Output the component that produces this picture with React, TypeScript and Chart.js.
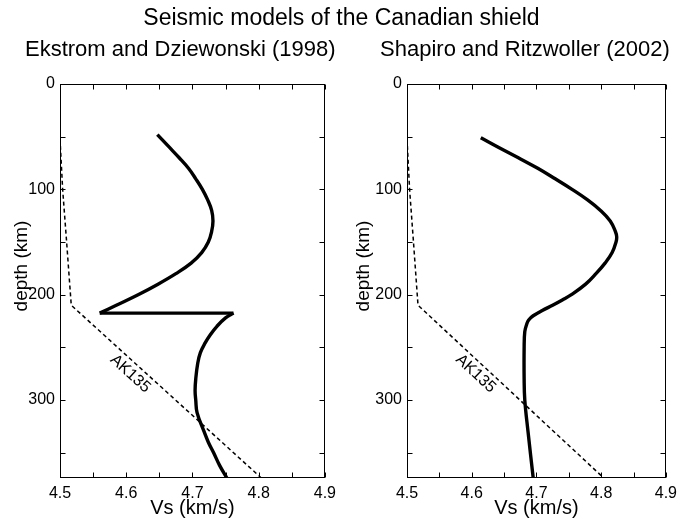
import React, { useEffect, useRef } from 'react';
import { Chart, registerables } from 'chart.js';

Chart.register(...registerables);

// ---------- text ----------
const mainTitle = 'Seismic models of the Canadian shield';
const panelTitles = ['Ekstrom and Dziewonski (1998)', 'Shapiro and Ritzwoller (2002)'];
const xAxisTitle = 'Vs (km/s)';
const yAxisTitle = 'depth (km)';
const refLabel = 'AK135';

// ---------- axes ----------
const xMin = 4.5;
const xMax = 4.9;
const xStep = 0.05;
const yMin = 0;
const yMax = 374;
const yStep = 50;

// ---------- data (depth in km, Vs in km/s) ----------
// Ekstrom & Dziewonski: upper branch down to the jump, then the deeper branch
const ekstromUpperDepth = [48, 60, 70, 80, 90, 100, 110, 120, 130, 140, 150, 160, 170, 180, 190, 200, 210, 217.5];
const ekstromUpperVs = [4.647, 4.665, 4.680, 4.694, 4.705, 4.715, 4.723, 4.729, 4.731, 4.729, 4.724, 4.714, 4.698, 4.675, 4.648, 4.618, 4.585, 4.560];
const ekstromLowerDepth = [217.5, 222, 230, 238, 246, 255, 265, 280, 291, 300, 312, 329, 340, 350, 362, 374];
const ekstromLowerVs = [4.762, 4.750, 4.737, 4.727, 4.719, 4.712, 4.708, 4.705, 4.704, 4.705, 4.707, 4.717, 4.724, 4.732, 4.741, 4.752];

const shapiroDepth = [51, 60, 70, 80, 90, 100, 110, 120, 130, 140, 145, 150, 160, 170, 180, 190, 200, 205, 210, 215, 220, 224, 228, 235, 250, 280, 300, 330, 374];
const shapiroVs = [4.614, 4.641, 4.672, 4.702, 4.729, 4.755, 4.779, 4.799, 4.814, 4.822, 4.824, 4.823, 4.817, 4.806, 4.792, 4.776, 4.754, 4.740, 4.725, 4.709, 4.695, 4.688, 4.685, 4.682, 4.681, 4.681, 4.682, 4.687, 4.695];

const ak135Depth = [52, 100, 150, 210, 374];
const ak135Vs = [4.500, 4.504, 4.510, 4.517, 4.804];

// where the AK135 label sits (data coordinates)
const refLabelVs = 4.606;
const refLabelDepth = 275;

const FONT = '"Liberation Sans", Arial, Helvetica, sans-serif';

const toPoints = (vs: number[], depth: number[]) => vs.map((v, i) => ({ x: v, y: depth[i] }));

const boxPlugin = {
  id: 'matlabBox',
  afterDatasetsDraw(chart: any) {
    const { ctx, chartArea } = chart;
    const xs = chart.scales.x;
    const ys = chart.scales.y;
    const l = Math.round(chartArea.left) + 0.5;
    const r = Math.round(chartArea.right) - 0.5;
    const t = Math.round(chartArea.top) + 0.5;
    const b = Math.round(chartArea.bottom) - 0.5;
    const tl = 5;
    ctx.save();
    ctx.strokeStyle = '#000';
    ctx.lineWidth = 1;
    ctx.strokeRect(l, t, r - l, b - t);
    ctx.beginPath();
    xs.ticks.forEach((tk: any) => {
      const k = Math.round((tk.value / xStep) * 1000) / 1000;
      if (Math.abs(k - Math.round(k)) > 1e-6) return;
      const px = Math.round(xs.getPixelForValue(tk.value)) + 0.5;
      ctx.moveTo(px, b); ctx.lineTo(px, b - tl);
      ctx.moveTo(px, t); ctx.lineTo(px, t + tl);
    });
    ys.ticks.forEach((tk: any) => {
      if (tk.value % yStep !== 0) return;
      const py = Math.round(ys.getPixelForValue(tk.value)) + 0.5;
      ctx.moveTo(l, py); ctx.lineTo(l + tl, py);
      ctx.moveTo(r, py); ctx.lineTo(r - tl, py);
    });
    ctx.stroke();
    ctx.restore();

    // AK135 label along the dashed line
    ctx.save();
    const p0 = { x: xs.getPixelForValue(ak135Vs[3]), y: ys.getPixelForValue(ak135Depth[3]) };
    const p1 = { x: xs.getPixelForValue(ak135Vs[4]), y: ys.getPixelForValue(ak135Depth[4]) };
    const ang = Math.atan2(p1.y - p0.y, p1.x - p0.x);
    ctx.translate(xs.getPixelForValue(refLabelVs), ys.getPixelForValue(refLabelDepth));
    ctx.rotate(ang);
    ctx.fillStyle = '#000';
    ctx.font = `16px ${FONT}`;
    ctx.textAlign = 'center';
    ctx.textBaseline = 'middle';
    ctx.fillText(refLabel, 0, 0);
    ctx.restore();

    // y axis title
    ctx.save();
    ctx.translate(ys.left + 22, (chartArea.top + chartArea.bottom) / 2 - 15);
    ctx.rotate(-Math.PI / 2);
    ctx.fillStyle = '#000';
    ctx.font = `19px ${FONT}`;
    ctx.textAlign = 'center';
    ctx.textBaseline = 'middle';
    ctx.fillText(yAxisTitle, 0, 0);
    ctx.restore();
  },
};

type Segment = { vs: number[]; depth: number[] };

function Panel(props: { segments: Segment[]; left: number; width: number; yAxisWidth: number; padRight: number }) {
  const ref = useRef<HTMLCanvasElement | null>(null);
  const { segments, left, width, yAxisWidth, padRight } = props;
  useEffect(() => {
    if (!ref.current) return;
    const tickFont = { family: FONT, size: 16 };
    const titleFont = { family: FONT, size: 20 };
    const solid = segments.map((s) => ({
      data: toPoints(s.vs, s.depth),
      showLine: true,
      borderColor: '#000',
      borderWidth: 3.4,
      pointRadius: 0,
      tension: 0.4,
      borderJoinStyle: 'miter',
      borderCapStyle: 'butt',
    }));
    const chart = new Chart(ref.current, {
      type: 'scatter',
      data: {
        datasets: [
          {
            data: toPoints(ak135Vs, ak135Depth),
            showLine: true,
            borderColor: '#000',
            borderWidth: 1.5,
            borderDash: [4, 3],
            pointRadius: 0,
            tension: 0,
          },
          ...solid,
        ],
      },
      options: {
        responsive: false,
        animation: false,
        layout: { padding: { left: 0, right: padRight, top: 84, bottom: 0 } },
        plugins: { legend: { display: false }, tooltip: { enabled: false }, title: { display: false } },
        scales: {
          x: {
            type: 'linear',
            min: xMin,
            max: xMax,
            grid: { display: false, drawTicks: false },
            border: { display: false },
            ticks: {
              stepSize: xStep,
              autoSkip: false,
              maxRotation: 0,
              padding: 6,
              color: '#000',
              font: tickFont,
              callback: (v: any) => {
                const n = Math.round(Number(v) * 100);
                return n % 10 === 0 ? (n / 100).toFixed(1) : '';
              },
            },
            title: { display: true, text: xAxisTitle, color: '#000', font: titleFont, padding: { top: 0, bottom: 3 } },
            afterFit: (s: any) => { s.height = 45; },
          },
          y: {
            type: 'linear',
            reverse: true,
            min: yMin,
            max: yMax,
            grid: { display: false, drawTicks: false },
            border: { display: false },
            ticks: {
              stepSize: yStep,
              autoSkip: false,
              padding: 5,
              color: '#000',
              font: tickFont,
              callback: (v: any) => (Number(v) % 100 === 0 ? String(v) : ''),
            },
            title: { display: false },
            afterFit: (s: any) => { s.width = yAxisWidth; },
          },
        },
      },
      plugins: [boxPlugin],
    } as any);
    return () => chart.destroy();
  }, []);
  return (
    <canvas
      ref={ref}
      width={width}
      height={523}
      style={{ position: 'absolute', left, top: 0, width, height: 523 }}
    />
  );
}

export default function App() {
  const textStyle: React.CSSProperties = {
    position: 'absolute',
    fontFamily: FONT,
    color: '#000',
    whiteSpace: 'nowrap',
    textAlign: 'center',
  };
  const ekstromSegments: Segment[] = [
    { vs: ekstromUpperVs, depth: ekstromUpperDepth },
    { vs: [ekstromUpperVs[ekstromUpperVs.length - 1], ekstromLowerVs[0]], depth: [ekstromUpperDepth[ekstromUpperDepth.length - 1], ekstromLowerDepth[0]] },
    { vs: ekstromLowerVs, depth: ekstromLowerDepth },
  ];
  const shapiroSegments: Segment[] = [{ vs: shapiroVs, depth: shapiroDepth }];
  return (
    <div style={{ position: 'absolute', left: 0, top: 0, width: 683, height: 523, background: '#fff', overflow: 'hidden' }}>
      <Panel segments={ekstromSegments} left={0} width={342} yAxisWidth={60} padRight={12} />
      <Panel segments={shapiroSegments} left={342} width={341} yAxisWidth={65} padRight={9} />
      <div style={{ ...textStyle, left: 0, width: 683, top: 6, fontSize: 23, lineHeight: '23px' }}>{mainTitle}</div>
      <div style={{ ...textStyle, left: 25, width: 300, top: 38, fontSize: 22, lineHeight: '22px' }}>{panelTitles[0]}</div>
      <div style={{ ...textStyle, left: 375, width: 300, top: 38, fontSize: 22, lineHeight: '22px' }}>{panelTitles[1]}</div>
    </div>
  );
}
